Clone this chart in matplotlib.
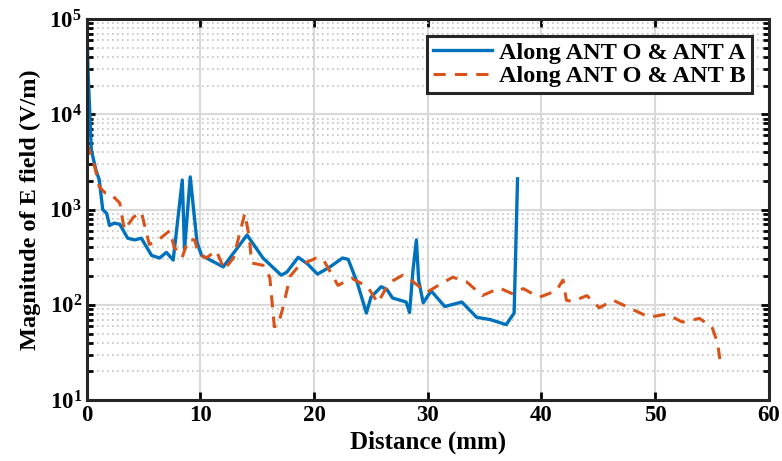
import matplotlib.pyplot as plt
from matplotlib.ticker import LogLocator, NullFormatter

# distance (mm) and field magnitude (V/m)
dist_a = [0.0, 0.1, 0.4, 0.8, 1.1, 1.4, 1.75, 2.0, 2.4, 2.9, 3.6, 4.2, 4.8, 5.7, 6.4, 7.0,
          7.6, 8.4, 8.6, 9.1, 9.7, 10.1, 12.0, 14.1, 15.5, 17.1, 17.6, 18.6, 19.4, 20.3,
          21.4, 22.5, 23.0, 23.8, 24.6, 25.0, 25.9, 26.4, 26.9, 28.1, 28.4, 28.7, 29.0,
          29.2, 29.6, 30.3, 31.5, 33.0, 34.3, 35.5, 36.9, 37.6, 37.9]
field_a = [100000, 30000, 4200, 2600, 2040, 1000, 910, 680, 720, 700, 500, 480, 500, 330,
           310, 355, 295, 2040, 380, 2200, 450, 330, 250, 540, 310, 205, 220, 315, 270, 210,
           250, 310, 300, 170, 82, 120, 155, 145, 118, 107, 83, 230, 480, 180, 105, 140, 96,
           107, 74, 70, 62, 82, 2100]

dist_b = [0.0, 0.7, 1.1, 1.6, 2.0, 2.9, 3.3, 4.1, 4.8, 5.5, 6.3, 7.3, 7.7, 8.4, 8.9, 9.5,
          9.8, 10.5, 11.4, 12.1, 12.9, 13.9, 14.3, 14.5, 15.5, 16.1, 16.5, 16.8, 17.2, 17.9,
          18.7, 20.2, 20.8, 22.1, 23.3, 24.7, 25.6, 26.6, 27.8, 28.7, 29.9, 31.3, 32.2, 33.4,
          34.8, 36.3, 37.5, 38.4, 39.8, 41.3, 41.9, 42.2, 42.7, 44.0, 45.1, 46.3, 47.8, 49.5,
          51.0, 52.4, 53.9, 55.0, 55.5, 55.7]
field_b = [5000, 2800, 1730, 1500, 1500, 1170, 610, 830, 940, 430, 480, 600, 400, 315, 480,
           480, 345, 310, 370, 235, 310, 910, 510, 275, 260, 195, 59, 60, 88, 200, 260, 310,
           300, 160, 190, 155, 105, 170, 205, 175, 135, 170, 195, 175, 125, 150, 130, 148,
           120, 140, 182, 112, 108, 125, 93, 112, 92, 74, 80, 66, 72, 59, 40, 27]

plt.rcParams['font.family'] = ['Liberation Serif', 'DejaVu Serif']
plt.rcParams['font.weight'] = 'bold'
plt.rcParams['mathtext.default'] = 'bf'

fig, ax = plt.subplots(figsize=(7.82, 4.61), dpi=100)
fig.subplots_adjust(left=0.111, right=0.983, top=0.959, bottom=0.132)

ax.plot(dist_a, field_a, color='#0072BD', linewidth=2.4, label='Along ANT O & ANT A')
ax.plot(dist_b, field_b, color='#D95319', linewidth=2.2, linestyle=(0, (4, 3)),
        label='Along ANT O & ANT B')

ax.set_yscale('log')
ax.set_xlim(0, 60)
ax.set_ylim(10, 1e5)
ax.set_xticks(range(0, 61, 10))
ax.yaxis.set_major_locator(LogLocator(base=10, numticks=10))
ax.yaxis.set_minor_locator(LogLocator(base=10, subs=range(2, 10), numticks=10))
ax.yaxis.set_minor_formatter(NullFormatter())

ax.grid(True, which='major', color='#d9d9d9', linewidth=1.5)
ax.grid(True, which='minor', axis='y', color='#c4c4c4', linestyle=(0, (1, 2)), linewidth=1.2)
ax.set_axisbelow(True)

for s in ax.spines.values():
    s.set_linewidth(2.2)
    s.set_color('#262626')
ax.tick_params(which='both', direction='in', top=True, right=True, labelsize=16.5, width=2)
ax.tick_params(which='major', length=6)
ax.tick_params(which='minor', length=4)

ax.set_xlabel('Distance (mm)', fontsize=18, fontweight='bold', labelpad=3)
ax.set_ylabel('Magnitude of E field (V/m)', fontsize=17.5, fontweight='bold', labelpad=6)

leg = ax.legend(loc='upper right', fontsize=17.5, fancybox=False, framealpha=1,
                edgecolor='#262626', borderpad=0.25, labelspacing=0.05, handlelength=2.4,
                handletextpad=0.3, borderaxespad=0.7)
leg.get_frame().set_linewidth(2.2)

plt.savefig('out.png')
